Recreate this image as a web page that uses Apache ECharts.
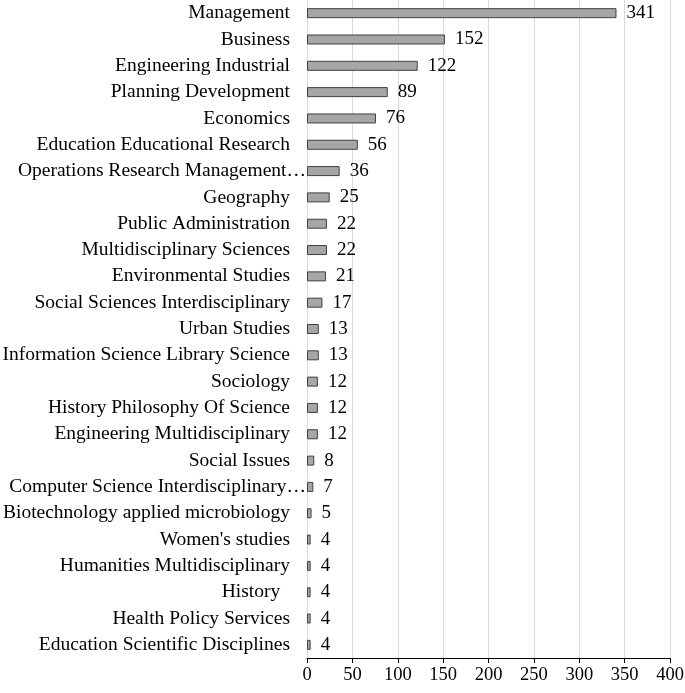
<!DOCTYPE html>
<html>
<head>
<meta charset="utf-8">
<script src="https://cdn.jsdelivr.net/npm/echarts@6/dist/echarts.min.js"></script>
<style>html,body{margin:0;padding:0;background:#fff}#c{width:685px;height:693px}</style>
</head>
<body>
<div id="c"></div>
<script>
const categories = [
  "Management", "Business", "Engineering Industrial", "Planning Development",
  "Economics", "Education Educational Research", "Operations Research Management…",
  "Geography", "Public Administration", "Multidisciplinary Sciences",
  "Environmental Studies", "Social Sciences Interdisciplinary", "Urban Studies",
  "Information Science Library Science", "Sociology", "History Philosophy Of Science",
  "Engineering Multidisciplinary", "Social Issues", "Computer Science Interdisciplinary…",
  "Biotechnology applied microbiology", "Women's studies", "Humanities Multidisciplinary",
  "History  ", "Health Policy Services", "Education Scientific Disciplines"
];
const values = [341, 152, 122, 89, 76, 56, 36, 25, 22, 22, 21, 17, 13, 13, 12, 12, 12, 8, 7, 5, 4, 4, 4, 4, 4];
const xTicks = [0, 50, 100, 150, 200, 250, 300, 350, 400];

const font = '"Liberation Serif", "Times New Roman", serif';
const chart = echarts.init(document.getElementById('c'), null, {renderer: 'canvas'});
chart.setOption({
  animation: false,
  backgroundColor: '#fff',
  grid: {left: 307, right: 15, top: 0, bottom: 35, containLabel: false, outerBoundsMode: 'none'},
  xAxis: {
    type: 'value', min: xTicks[0], max: xTicks[xTicks.length - 1], interval: 50,
    axisLine: {show: true, lineStyle: {color: '#000', width: 1}},
    axisTick: {show: true, length: 5, lineStyle: {color: '#000'}},
    axisLabel: {color: '#000', fontFamily: font, fontSize: 18.5, margin: 8},
    splitLine: {show: true, lineStyle: {color: '#d9d9d9', width: 1}}
  },
  yAxis: {
    type: 'category', data: categories, inverse: true,
    axisLine: {show: false}, axisTick: {show: false},
    axisLabel: {
      color: '#000', fontFamily: font, fontSize: 19.5, margin: 17,
      formatter: function (v) { return v.endsWith('…') ? '{t|' + v + '}' : v; },
      rich: {t: {color: '#000', fontFamily: font, fontSize: 19.5, padding: [0, -16, 0, 0]}}
    }
  },
  series: [{
    type: 'bar', data: values, barWidth: 10,
    itemStyle: {color: '#a6a6a6', borderColor: '#404040', borderWidth: 1},
    label: {show: true, position: 'right', distance: 10, color: '#000', fontFamily: font, fontSize: 19}
  }]
});
</script>
</body>
</html>
